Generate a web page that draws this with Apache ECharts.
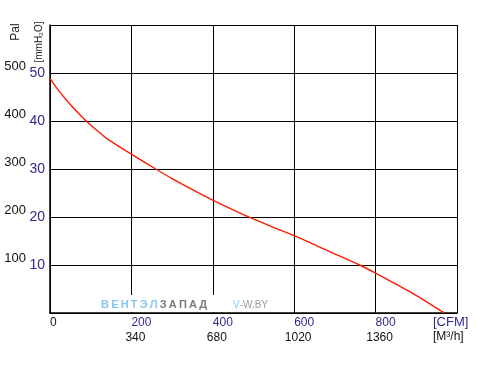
<!DOCTYPE html>
<html>
<head>
<meta charset="utf-8">
<script src="https://cdn.jsdelivr.net/npm/echarts@6/dist/echarts.min.js"></script>
<style>html,body{margin:0;padding:0;background:#fff}#c{width:486px;height:369px}</style>
</head>
<body>
<div id="c"></div>
<script>
// Airflow (CFM) and static pressure (mmH2O)
var cfm = [0, 20, 45, 70, 90, 120, 145, 200, 262, 300, 350, 400, 442, 491, 550, 600, 687, 761, 800, 891, 969];
var pressure = [48.9, 46.5, 43.9, 41.6, 39.9, 37.7, 36.0, 33.1, 29.9, 28.0, 25.7, 23.5, 21.8, 19.9, 17.8, 16.1, 12.8, 10.0, 8.3, 4.1, 0];
// Tick labels
var cfmTicks = [0, 200, 400, 600, 800];
var m3hLabels = {200: '340', 400: '680', 600: '1020', 800: '1360'};
var mmTicks = [10, 20, 30, 40, 50];
var paLabels = {10: '100', 20: '200', 30: '300', 40: '400', 50: '500'};

var FONT = 'Liberation Sans, Arial, sans-serif';
var BLUE = '#2e2a8c';
var chart = echarts.init(document.getElementById('c'), null, {renderer: 'canvas'});
var data = cfm.map(function (x, i) { return [x, pressure[i]]; });

chart.setOption({
  animation: false,
  backgroundColor: '#fff',
  grid: {left: 50, top: 25, width: 407, height: 288, containLabel: false},
  xAxis: [{
    type: 'value', min: 0, max: 1000, interval: 200, position: 'bottom',
    axisLine: {show: true, onZero: false, lineStyle: {color: '#000', width: 1.5}},
    axisTick: {show: false},
    splitLine: {show: true, lineStyle: {color: '#000', width: 1}},
    axisLabel: {
      margin: 4, align: 'left', fontFamily: FONT, fontSize: 12, color: BLUE,
      showMaxLabel: false,
      formatter: function (v) {
        if (cfmTicks.indexOf(v) < 0) return '';
        return v === 0 ? '{k|0}' : String(v);
      },
      rich: {k: {color: '#111', fontFamily: FONT, fontSize: 12}}
    }
  }, {
    type: 'value', min: 0, max: 1000, interval: 200, position: 'bottom',
    axisLine: {show: false}, axisTick: {show: false}, splitLine: {show: false},
    axisLabel: {
      margin: 19, fontFamily: FONT, fontSize: 12, color: '#111', padding: [0, 0, 0, 8],
      formatter: function (v) { return m3hLabels[v] || ''; }
    }
  }],
  yAxis: [{
    type: 'value', min: 0, max: 60, interval: 10, position: 'left',
    axisLine: {show: true, onZero: false, lineStyle: {color: '#000', width: 1.5}},
    axisTick: {show: false},
    splitLine: {show: true, lineStyle: {color: '#000', width: 1}},
    axisLabel: {
      margin: 5, fontFamily: FONT, fontSize: 14, color: BLUE,
      formatter: function (v) { return mmTicks.indexOf(v) >= 0 ? String(v) : ''; }
    }
  }, {
    type: 'value', min: 0, max: 60, interval: 10, position: 'left',
    axisLine: {show: false}, axisTick: {show: false}, splitLine: {show: false},
    axisLabel: {
      margin: 24, fontFamily: FONT, fontSize: 13, color: '#111', verticalAlign: 'bottom',
      formatter: function (v) { return paLabels[v] || ''; }
    }
  }],
  series: [{
    type: 'line', xAxisIndex: 0, yAxisIndex: 0, data: data,
    smooth: 0.3, showSymbol: false, symbol: 'none',
    lineStyle: {color: '#ff1a00', width: 1.4}, z: 5
  }],
  graphic: [
    {type: 'text', x: 16, y: 32, rotation: Math.PI / 2,
      style: {text: 'Pal', fontFamily: FONT, fontSize: 12, fill: '#222', align: 'center', verticalAlign: 'middle'}},
    {type: 'text', x: 39, y: 42, rotation: Math.PI / 2,
      style: {text: '[mmH\u2082O]', fontFamily: FONT, fontSize: 10, fill: '#222', align: 'center', verticalAlign: 'middle'}},
    {type: 'text', x: 433, y: 322,
      style: {text: '[CFM]', fontFamily: FONT, fontSize: 13, fill: BLUE, align: 'left', verticalAlign: 'middle'}},
    {type: 'text', x: 433, y: 337,
      style: {text: '[M\u00b3/h]', fontFamily: FONT, fontSize: 12, fill: '#111', align: 'left', verticalAlign: 'middle'}},
    {type: 'rect', shape: {x: 98, y: 295, width: 190, height: 17}, style: {fill: '#fff'}, z: 3},
    {type: 'text', x: 101, y: 305, z: 4,
      style: {
        text: '{a|\u0412\u2009\u0415\u2009\u041d\u2009\u0422\u2009\u042d\u2009\u041b\u2009}{b|\u0417\u2009\u0410\u2009\u041f\u2009\u0410\u2009\u0414}',
        verticalAlign: 'middle', align: 'left',
        rich: {
          a: {fontFamily: FONT, fontSize: 11, fontWeight: 'bold', fill: '#86c8ee'},
          b: {fontFamily: FONT, fontSize: 11, fontWeight: 'bold', fill: '#7a7a7a'}
        }
      }},
    {type: 'text', x: 233, y: 305, z: 4,
      style: {
        text: '{a|V}{b|-W.BY}', verticalAlign: 'middle', align: 'left',
        rich: {
          a: {fontFamily: FONT, fontSize: 10, fill: '#8cc8ee'},
          b: {fontFamily: FONT, fontSize: 10, fill: '#9a9a9a'}
        }
      }}
  ]
});
</script>
</body>
</html>
